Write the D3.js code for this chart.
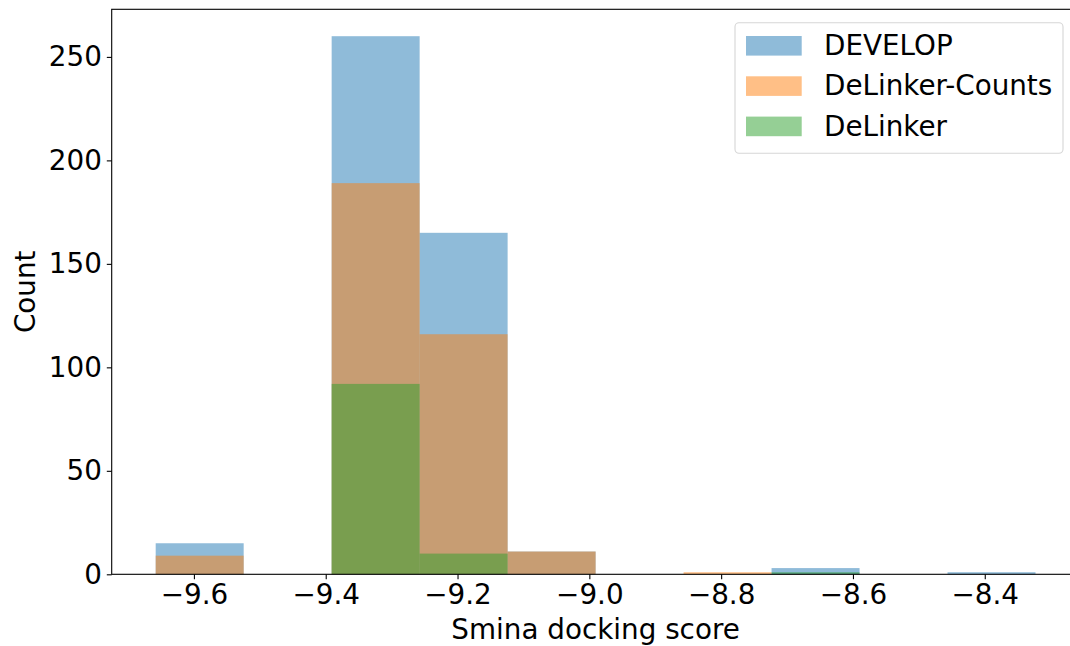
<!DOCTYPE html>
<html>
<head>
<meta charset="utf-8">
<script src="https://cdn.jsdelivr.net/npm/d3@7"></script>
<style>
  body { margin: 0; background: #fff; }
  text { font-family: "DejaVu Sans", sans-serif; }
</style>
</head>
<body>
<div id="chart"></div>
<script>

// ======================= //
// DATA
// ======================= //

// bin edges of the shared histogram (Smina docking score)
var binEdges = [-9.658, -9.5245, -9.391, -9.2575, -9.124, -8.9905, -8.857, -8.7235, -8.59, -8.4565, -8.323]

// series names, in drawing order
var seriesNames = ["DEVELOP", "DeLinker-Counts", "DeLinker"]

// counts per bin
var countsDevelop = [15, 0, 260, 165, 11, 0, 0, 3, 0, 1]
var countsDelinkerCounts = [9, 0, 189, 116, 11, 0, 1, 0, 0, 0]
var countsDelinker = [0, 0, 92, 10, 0, 0, 0, 1, 0, 0]

var xTicks = [-9.6, -9.4, -9.2, -9.0, -8.8, -8.6, -8.4]
var yTicks = [0, 50, 100, 150, 200, 250]

var colors = ["#1f77b4", "#ff7f0e", "#2ca02c"]

var allCounts = [countsDevelop, countsDelinkerCounts, countsDelinker]

var fontSize = "27.8px"


// ======================= //
// SVG AREA
// ======================= //

var W = 1070, H = 646
var margin = {top: 9.3, left: 111.7, right: 1079.5, bottom: 574.3}

var svg = d3.select("#chart")
  .append("svg")
    .attr("width", W)
    .attr("height", H)

// scales
var binW = binEdges[binEdges.length-1] - binEdges[0]
var x = d3.scaleLinear()
  .domain([binEdges[0] - 0.05*binW, binEdges[binEdges.length-1] + 0.05*binW])
  .range([margin.left, margin.right])

var y = d3.scaleLinear()
  .domain([0, 273])
  .range([margin.bottom, margin.top])


// ======================= //
// BARS
// ======================= //

allCounts.forEach(function(counts, s){
  svg.append("g")
    .attr("fill", colors[s])
    .attr("fill-opacity", 0.5)
    .selectAll("rect")
    .data(counts)
    .enter()
    .append("rect")
      .attr("x", function(d, i){ return x(binEdges[i]) })
      .attr("width", function(d, i){ return x(binEdges[i+1]) - x(binEdges[i]) })
      .attr("y", function(d){ return y(d) })
      .attr("height", function(d){ return y(0) - y(d) })
})


// ======================= //
// AXES
// ======================= //

var xAxis = svg.append("g")
  .attr("transform", "translate(0," + margin.bottom + ")")
  .call(d3.axisBottom(x).tickValues(xTicks).tickFormat(d3.format(".1f")).tickSize(4.9).tickPadding(4.9))
var yAxis = svg.append("g")
  .attr("transform", "translate(" + margin.left + ",0)")
  .call(d3.axisLeft(y).tickValues(yTicks).tickSize(4.9).tickPadding(4.9))

;[xAxis, yAxis].forEach(function(a){
  a.select(".domain").remove()
  a.selectAll(".tick line").attr("stroke", "#000").attr("stroke-width", 1.1)
  a.selectAll(".tick text")
    .attr("fill", "#000")
    .style("font-size", fontSize)
    .style("font-family", "'DejaVu Sans', sans-serif")
})

// spines
svg.append("rect")
  .attr("x", margin.left)
  .attr("y", margin.top)
  .attr("width", margin.right - margin.left)
  .attr("height", margin.bottom - margin.top)
  .attr("fill", "none")
  .attr("stroke", "#000")
  .attr("stroke-width", 1.1)

// axis titles
svg.append("text")
  .attr("x", (margin.left + margin.right)/2)
  .attr("y", 638.5)
  .attr("text-anchor", "middle")
  .style("font-size", fontSize)
  .text("Smina docking score")

svg.append("text")
  .attr("transform", "translate(35," + (margin.top + margin.bottom)/2 + ") rotate(-90)")
  .attr("text-anchor", "middle")
  .style("font-size", fontSize)
  .text("Count")


// ======================= //
// LEGEND
// ======================= //

var legend = svg.append("g")

legend.append("rect")
  .attr("x", 735)
  .attr("y", 22.7)
  .attr("width", 328)
  .attr("height", 130.6)
  .attr("rx", 4)
  .attr("fill", "#fff")
  .attr("fill-opacity", 0.8)
  .attr("stroke", "#d6d6d6")
  .attr("stroke-width", 1.1)

seriesNames.forEach(function(name, i){
  legend.append("rect")
    .attr("x", 746)
    .attr("y", 36 + i*40.3)
    .attr("width", 55.7)
    .attr("height", 19.6)
    .attr("fill", colors[i])
    .attr("fill-opacity", 0.5)
  legend.append("text")
    .attr("x", 824)
    .attr("y", 55 + i*40.3)
    .style("font-size", fontSize)
    .text(name)
})

</script>
</body>
</html>
